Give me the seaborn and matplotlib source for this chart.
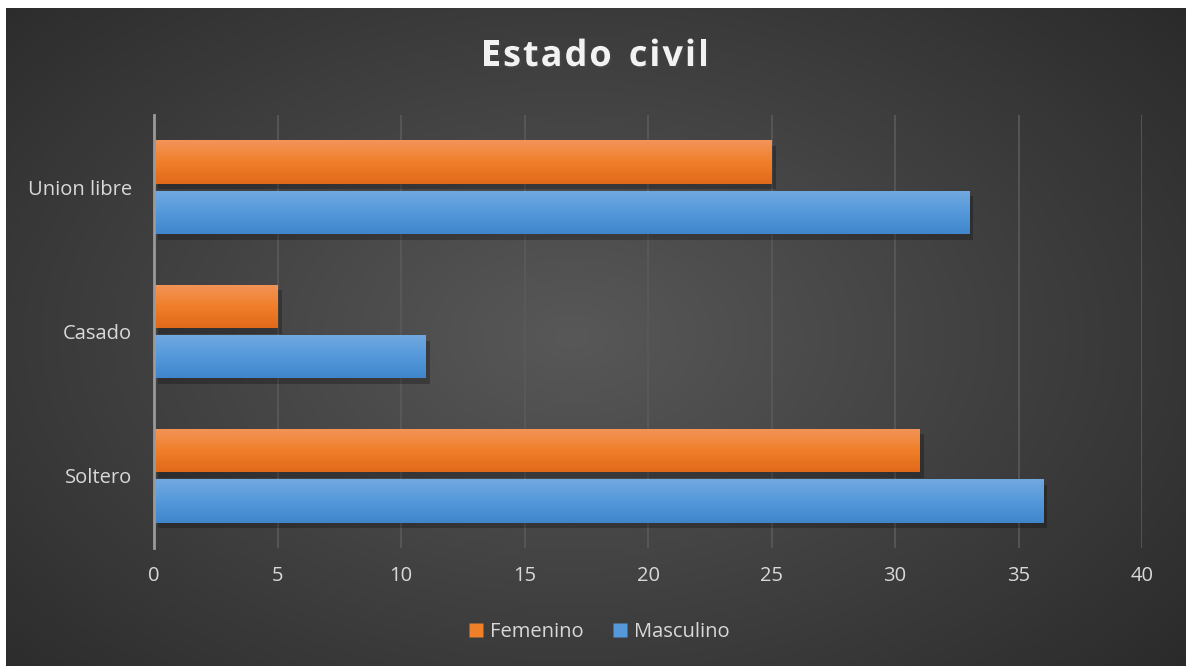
import numpy as np
import pandas as pd
import matplotlib
matplotlib.use("Agg")
import matplotlib.pyplot as plt
import matplotlib.patheffects as pe
from matplotlib.lines import Line2D
from matplotlib.colors import LinearSegmentedColormap
import seaborn as sns

categories = ["Union libre", "Casado", "Soltero"]
femenino = [25, 5, 31]
masculino = [33, 11, 36]
series = ["Femenino", "Masculino"]
xticks = [0, 5, 10, 15, 20, 25, 30, 35, 40]
title = "Estado civil"

df = pd.DataFrame({
    "cat": categories * 2,
    "val": femenino + masculino,
    "sexo": [series[0]] * 3 + [series[1]] * 3,
})

sns.set_theme(style="dark")
plt.rcParams["font.family"] = ["Open Sans", "DejaVu Sans"]

W, H = 1186, 666
fig = plt.figure(figsize=(W / 100, H / 100), dpi=100, facecolor="white")

# background with radial gradient
bg = fig.add_axes([6 / W, 0, 1 - 6 / W, 1 - 8 / H])
bg.set_axis_off()
yy, xx = np.mgrid[0:1:400j, 0:1:700j]
r = np.sqrt(((xx - 0.48) / 0.75) ** 2 + ((yy - 0.5) / 0.85) ** 2)
r = np.clip(r, 0, 1)
inner = np.array([0x58, 0x58, 0x58]) / 255
outer = np.array([0x26, 0x26, 0x26]) / 255
img = inner[None, None, :] * (1 - r[..., None]) + outer[None, None, :] * r[..., None]
bg.imshow(img, aspect="auto", extent=[0, 1, 0, 1])
bg.set_xlim(0, 1)
bg.set_ylim(0, 1)

ax = fig.add_axes([154 / W, (H - 548) / H, (1142 - 154) / W, (548 - 115) / H])
ax.set_facecolor("none")

colors = {"Femenino": "#F07F2A", "Masculino": "#5599DB"}
sns.barplot(data=df, x="val", y="cat", hue="sexo", order=categories,
            hue_order=series, orient="h", palette=colors, width=0.70,
            gap=0.14, ax=ax, legend=False, saturation=1, zorder=3,
            linewidth=0, edgecolor="none")

grads = {
    "Femenino": ("#F39459", "#F07F2A", "#E0691A"),
    "Masculino": ("#72A8E0", "#5599DB", "#3F86CB"),
}
bars = [p for p in ax.patches]
for i, p in enumerate(bars):
    key = series[0] if i < 3 else series[1]
    cmap = LinearSegmentedColormap.from_list("g", grads[key])
    grad = np.linspace(0, 1, 64)[:, None]
    x0, y0, w, h = p.get_x(), p.get_y(), p.get_width(), p.get_height()
    p.set_linewidth(0)
    p.set_edgecolor("none")
    p.set_path_effects([pe.SimplePatchShadow(offset=(3, -4), alpha=0.25, shadow_rgbFace="black"), pe.Normal()])
    im = ax.imshow(grad, cmap=cmap, aspect="auto", extent=[x0, x0 + w, y0 + h, y0],
                   zorder=4, origin="upper")
    im.set_clip_path(p)

ax.set_xlim(0, 40)
ax.set_ylim(2.5, -0.5)
ax.set_aspect("auto")

ax.set_xticks(xticks)
ax.set_xticklabels([str(t) for t in xticks])
ax.xaxis.grid(True, color="#5a5a5a", linewidth=1.2, zorder=0)
ax.yaxis.grid(False)
ax.set_axisbelow(True)
for s in ["top", "right", "bottom"]:
    ax.spines[s].set_visible(False)
ax.spines["left"].set_color("#9a9a9a")
ax.spines["left"].set_linewidth(2)
ax.spines["left"].set_zorder(5)
ax.tick_params(axis="both", length=0, colors="#d9d9d9", labelsize=14.5)
ax.tick_params(axis="x", pad=13)
ax.tick_params(axis="y", pad=16)
ax.set_xlabel("")
ax.set_ylabel("")

# title with letter spacing
renderer = fig.canvas.get_renderer()
spacing = 2.0  # px
tprops = dict(fontsize=26, fontweight="bold", color="#f2f2f2", va="center", ha="left",
              path_effects=[pe.withSimplePatchShadow(offset=(1.5, -1.5), alpha=0.6)])
widths = []
for ch in title:
    t = fig.text(0, 0, ch if ch != " " else "n", **tprops)
    bb = t.get_window_extent(renderer)
    widths.append(bb.width * (0.55 if ch == " " else 1.0))
    t.remove()
total = sum(widths) + spacing * (len(title) - 1)
x = 595 - total / 2
for ch, w in zip(title, widths):
    if ch != " ":
        fig.text(x / W, 1 - 57 / H, ch, **tprops)
    x += w + spacing

handles = [Line2D([], [], marker="s", linestyle="none", markersize=10,
                  markerfacecolor=colors[s], markeredgecolor="none") for s in series]
fig.legend(handles, series, loc="center", bbox_to_anchor=(598 / W, 1 - 632 / H),
           ncol=2, frameon=False, fontsize=14.5, labelcolor="#d9d9d9",
           handletextpad=0.2, columnspacing=1.3, handlelength=1.0)

fig.savefig("out.png", dpi=100, facecolor="white")
